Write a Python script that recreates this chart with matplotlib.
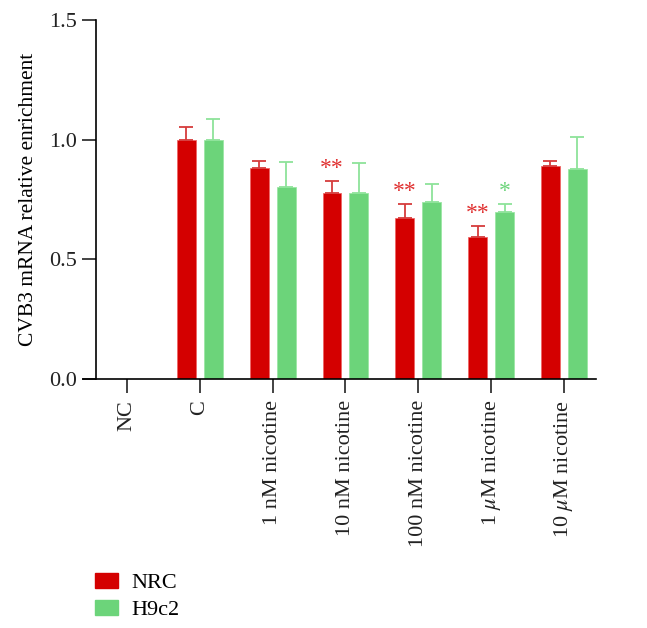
import numpy as np
import matplotlib
matplotlib.use("Agg")
import matplotlib.pyplot as plt
from matplotlib.patches import Patch

plt.rcParams['font.family'] = ['Liberation Serif', 'DejaVu Serif']
plt.rcParams['mathtext.fontset'] = 'stix'

groups = ['NC', 'C', '1 nM nicotine', '10 nM nicotine', '100 nM nicotine',
          r'1 $\mu$M nicotine', r'10 $\mu$M nicotine']
nrc = [0.0, 1.0, 0.881, 0.778, 0.673, 0.594, 0.888]
nrc_err = [0.0, 0.051, 0.031, 0.048, 0.059, 0.045, 0.021]
h9c2 = [0.0, 1.0, 0.801, 0.776, 0.739, 0.696, 0.878]
h9c2_err = [0.0, 0.085, 0.107, 0.128, 0.074, 0.036, 0.134]
nrc_sig = ['', '', '', '**', '**', '**', '']
h9c2_sig = ['', '', '', '', '', '*', '']

RED = '#d40000'
GREEN = '#6cd47a'
RED_ERR = '#d63c3c'
GREEN_ERR = '#8ee39a'

fig = plt.figure(figsize=(6.47, 6.28), dpi=100)
ax = fig.add_axes([83 / 647, 1 - 379 / 628, (596 - 83) / 647, (379 - 20) / 628])

x = np.arange(len(groups))
w = 0.26
off = 0.185
ax.bar(x - off, nrc, w, color=RED, edgecolor='#ee6666', linewidth=0.6, zorder=2)
ax.bar(x + off, h9c2, w, color=GREEN, edgecolor='#9be6a5', linewidth=0.6, zorder=2)
for i in range(len(groups)):
    if nrc[i] > 0:
        ax.errorbar(x[i] - off, nrc[i], yerr=[[0], [nrc_err[i]]], color=RED_ERR,
                    capsize=5, elinewidth=1.3, capthick=1.3, zorder=3)
    if h9c2[i] > 0:
        ax.errorbar(x[i] + off, h9c2[i], yerr=[[0], [h9c2_err[i]]], color=GREEN_ERR,
                    capsize=5, elinewidth=1.3, capthick=1.3, zorder=3)
    if nrc_sig[i]:
        ax.text(x[i] - off, nrc[i] + nrc_err[i] + 0.008, nrc_sig[i], color='#e03030',
                ha='center', va='bottom', fontsize=17)
    if h9c2_sig[i]:
        ax.text(x[i] + off, h9c2[i] + h9c2_err[i] + 0.008, h9c2_sig[i], color=GREEN,
                ha='center', va='bottom', fontsize=17)

ax.set_xlim(-0.604, 6.44)
ax.set_ylim(0, 1.5)
ax.spines['top'].set_visible(False)
ax.spines['right'].set_visible(False)
ax.spines['left'].set_position(('data', -0.426))
ax.spines['left'].set_linewidth(1.2)
ax.spines['bottom'].set_linewidth(1.2)
ax.set_yticks([0.0, 0.5, 1.0, 1.5])
ax.set_yticklabels(['0.0', '0.5', '1.0', '1.5'])
ax.set_xticks(x)
ax.set_xticklabels(groups, rotation=90)
ax.tick_params(axis='both', length=10, width=1.2, labelsize=16, colors='#222222')
ax.tick_params(axis='x', pad=5)
ax.tick_params(axis='y', pad=4)
ax.set_ylabel('CVB3 mRNA relative enrichment', fontsize=15.5, labelpad=8)

handles = [Patch(color=RED, label='NRC'), Patch(color=GREEN, label='H9c2')]
fig.legend(handles=handles, loc='upper left', bbox_to_anchor=(95 / 647, 1 - 573 / 628),
           frameon=False, fontsize=16, handlelength=1.05, handleheight=0.65,
           handletextpad=0.6, labelspacing=0.3, borderpad=0, borderaxespad=0)

fig.savefig('out.png', dpi=100)
